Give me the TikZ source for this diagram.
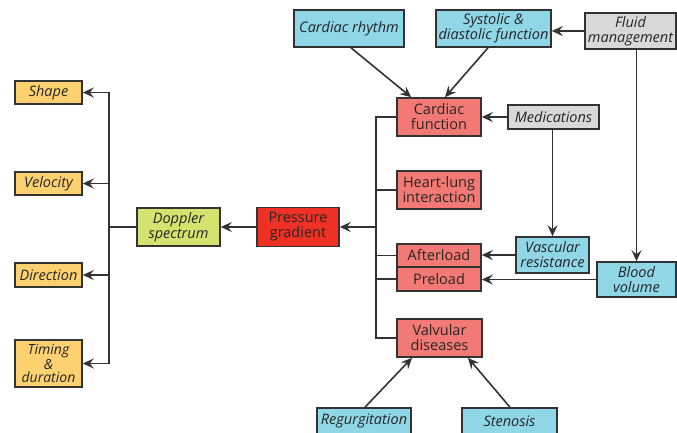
\documentclass[tikz,border=0pt]{standalone}
\usepackage{fontspec}
\setmainfont{Open Sans}
\usetikzlibrary{arrows.meta,calc}
\definecolor{cyel}{HTML}{FDD170}
\definecolor{cgrn}{HTML}{D5E26E}
\definecolor{cred}{HTML}{EE3124}
\definecolor{csal}{HTML}{F37A74}
\definecolor{cblu}{HTML}{8FD6E6}
\definecolor{cgry}{HTML}{D9D9D9}
\definecolor{cline}{HTML}{333333}
\tikzset{
  box/.style={draw=cline, line width=1.6pt, inner sep=0pt, align=center,
    font=\fontsize{14.5}{15}\selectfont, text=black!85},
  ibox/.style={box, font=\fontsize{14.5}{15}\selectfont\itshape},
  sz/.style 2 args={minimum width=#1pt, minimum height=#2pt},
  arr/.style={draw=cline, line width=1.6pt, -{Stealth[length=11pt,width=10pt,inset=4pt]}},
  ln/.style={draw=cline, line width=1.6pt},
}
\begin{document}
\begin{tikzpicture}[x=1pt,y=-1pt]
\useasboundingbox (0,0) rectangle (677,432);
% left column
\node[ibox, fill=cyel, sz={67}{23}] (shape) at (48.5,92.5) {Shape};
\node[ibox, fill=cyel, sz={67}{23}] (velocity) at (48.5,183.5) {Velocity};
\node[ibox, fill=cyel, sz={67}{24}] (direction) at (48.5,275) {Direction};
\node[ibox, fill=cyel, sz={67}{47}, font=\fontsize{14}{13.5}\selectfont\itshape] (timing) at (48.5,363.5) {Timing\\\&\\duration};
\node[ibox, fill=cgrn, sz={83}{38}] (doppler) at (178.5,227) {Doppler\\spectrum};
\node[box, fill=cred, sz={82}{39}] (pressure) at (298,227) {Pressure\\gradient};
% red column
\node[box, fill=csal, sz={84}{38}] (cardiac) at (439,117) {Cardiac\\function};
\node[box, fill=csal, sz={84}{38}] (heartlung) at (439,190) {Heart-lung\\interaction};
\node[box, fill=csal, sz={84}{23.5}] (afterload) at (439,255.5) {Afterload};
\node[box, fill=csal, sz={84}{23.5}] (preload) at (439,279) {Preload};
\node[box, fill=csal, sz={85}{38}] (valvular) at (439.5,338) {Valvular\\diseases};
% blue / gray
\node[ibox, fill=cblu, sz={110}{37}] (rhythm) at (349,28.5) {Cardiac rhythm};
\node[ibox, fill=cblu, sz={115}{37}] (systolic) at (493.5,28.5) {Systolic \&\\diastolic function};
\node[ibox, fill=cgry, sz={91}{36}] (fluid) at (630.5,31) {Fluid\\management};
\node[ibox, fill=cgry, sz={91}{24}] (medications) at (553.5,117) {Medications};
\node[ibox, fill=cblu, sz={73}{36}] (vascular) at (552.5,255) {Vascular\\resistance};
\node[ibox, fill=cblu, sz={79}{35}] (blood) at (636.5,279.5) {Blood\\volume};
\node[ibox, fill=cblu, sz={94}{26}] (regurg) at (364,421) {Regurgitation};
\node[ibox, fill=cblu, sz={95}{26}] (stenosis) at (509.5,421) {Stenosis};
% left bus
\coordinate (lb) at (109,227);
\draw[ln] (doppler.west) -- (lb);
\draw[arr] (lb) |- (shape.east);
\draw[arr] (lb) |- (velocity.east);
\draw[arr] (lb) |- (direction.east);
\draw[arr] (lb) |- (timing.east);
\draw[arr] (pressure.west) -- (doppler.east);
% right bus
\coordinate (rb) at (376,227);
\draw[arr] (rb) -- (pressure.east);
\draw[ln] (rb) |- (cardiac.west);
\draw[ln] (rb) |- (heartlung.west);
\draw[ln] (rb) |- (afterload.west);
\draw[ln] (rb) |- (preload.west);
\draw[ln] (rb) |- (valvular.west);
% top
\draw[arr] ($(rhythm.south)+(2,0)$) -- ($(cardiac.north west)+(15,0)$);
\draw[arr] ($(systolic.south)+(-5.5,0)$) -- ($(cardiac.north)+(6,0)$);
\draw[arr] (fluid.west) -- (fluid.west -| systolic.east);
\draw[arr] (blood.north |- fluid.south) -- (blood.north);
\draw[arr] (medications.west) -- (medications.west -| cardiac.east);
\draw[arr] (vascular.north |- medications.south) -- (vascular.north);
\draw[arr] (vascular.west) -- (vascular.west -| afterload.east);
\draw[arr] (blood.west) -- (blood.west -| preload.east);
% bottom
\draw[arr] ($(regurg.north)+(1,0)$) -- ($(valvular.south)+(-27.5,0)$);
\draw[arr] ($(stenosis.north)+(0.5,0)$) -- ($(valvular.south)+(28.5,0)$);
\end{tikzpicture}
\end{document}
